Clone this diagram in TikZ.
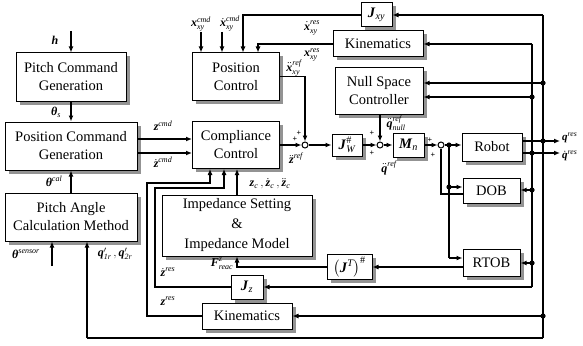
\documentclass[tikz,border=0pt]{standalone}
\usepackage{amsmath}
\usepackage{fontspec}
\setmainfont{Liberation Serif}
\usetikzlibrary{arrows.meta,shadows,calc}

\newcommand{\bi}[1]{\textbf{\textit{#1}}}

\begin{document}
\begin{tikzpicture}[x=1pt, y=-1pt,
  >={Latex[length=6pt,width=5pt]},
  blk/.style={draw, line width=1pt, fill=white, align=center, inner sep=1pt,
    font=\fontsize{14.5}{18}\selectfont,
    general shadow={fill=gray!85, shadow xshift=3.5pt, shadow yshift=-3.5pt}},
  sig/.style={line width=1.7pt},
  fb/.style={line width=1.1pt},
  jn/.style={draw, circle, line width=1pt, fill=white, inner sep=0pt, minimum size=6pt},
  lbl/.style={font=\fontsize{12}{14}\selectfont, inner sep=0pt},
  pm/.style={font=\fontsize{8}{8}\selectfont\bfseries, inner sep=0pt}]
  \useasboundingbox (0,0) rectangle (583,345);

  % left column
  \node[blk, minimum width=110pt, minimum height=48pt] (pcg) at (71,77) {Pitch Command\\Generation};
  \node[blk, minimum width=132pt, minimum height=48pt] (poscg) at (71,146) {Position Command\\Generation};
  \node[blk, minimum width=132pt, minimum height=48pt] (pacm) at (71,217) {Pitch Angle\\Calculation Method};

  % controllers
  \node[blk, minimum width=87pt, minimum height=47pt] (posc) at (236,76.5) {Position\\Control};
  \node[blk, minimum width=87pt, minimum height=47pt] (comp) at (236,145) {Compliance\\Control};
  \node[blk, minimum width=150pt, minimum height=61pt, font=\fontsize{14.5}{20}\selectfont] (imp) at (237,225.5) {Impedance Setting\\\&\\Impedance Model};

  % top right blocks
  \node[blk, minimum width=31pt, minimum height=24pt] (jxy) at (376.5,15) {$\bi{J}_{\textit{xy}}$};
  \node[blk, minimum width=90pt, minimum height=26pt] (kin1) at (378,44) {Kinematics};
  \node[blk, minimum width=88pt, minimum height=47pt] (nsc) at (379,90.5) {Null Space\\Controller};

  % forward path
  \node[jn] (s1) at (305,145) {};
  \node[blk, minimum width=30pt, minimum height=22pt] (jw) at (347,145) {$\bi{J}^{\#}_{\textit{W}}$};
  \node[jn] (s2) at (380,145) {};
  \node[blk, minimum width=31pt, minimum height=24pt] (mn) at (408.5,145) {$\bi{M}_{\textit{n}}$};
  \node[jn] (s3) at (441,145) {};
  \node[blk, minimum width=60pt, minimum height=28pt] (robot) at (492,147) {Robot};
  \node[blk, minimum width=57pt, minimum height=25pt] (dob) at (491.5,190.5) {DOB};
  \node[blk, minimum width=57pt, minimum height=27pt] (rtob) at (491.5,262.5) {RTOB};

  % feedback blocks
  \node[blk, minimum width=45pt, minimum height=25pt] (jt) at (349.5,267) {$\left(\bi{J}^{\textit{T}}\right)^{\#}$};
  \node[blk, minimum width=32pt, minimum height=24pt] (jz) at (247,287) {$\bi{J}_{\textit{z}}$};
  \node[blk, minimum width=90pt, minimum height=26pt] (kin2) at (247,316) {Kinematics};

  % bus points
  \coordinate (qtop) at (543,15);
  \coordinate (qn) at (543,83);
  \coordinate (qo) at (543,141);
  \coordinate (qk) at (543,316);
  \coordinate (qbot) at (543,338);
  \coordinate (vtop) at (532,44);
  \coordinate (vn) at (532,97);
  \coordinate (qdo) at (532,153);
  \coordinate (vd) at (532,190);
  \coordinate (vr) at (532,263);
  \coordinate (vbot) at (532,287);
  \coordinate (rd) at (449,145);
  \coordinate (db) at (449,187);
  \coordinate (rb) at (449,258);

  % left arrows
  \coordinate (hin) at (71,31);
  \draw[sig,->] (hin) -- (pcg.north);
  \draw[sig,->] (pcg.south) -- (poscg.north);
  \draw[sig,->] (pacm.north) -- (poscg.south);
  \coordinate (sens) at (52,266);
  \draw[sig,->] (sens) -- (sens |- pacm.south);
  \coordinate (qleft) at (87,338);
  \draw[fb] (qbot) -- (qleft);
  \draw[sig,->] (qleft) -- (qleft |- pacm.south);
  \draw[sig,->] ($(poscg.east)+(0,-7)$) coordinate (zc1) -- (zc1 -| comp.west);
  \draw[sig,->] ($(poscg.east)+(0,7)$) coordinate (zc2) -- (zc2 -| comp.west);

  % position control inputs
  \coordinate (xc1) at (201,32);
  \coordinate (xc2) at (222,32);
  \draw[sig,->] (xc1) -- (xc1 |- posc.north);
  \draw[sig,->] (xc2) -- (xc2 |- posc.north);
  \coordinate (jx1) at (243,15);
  \draw[fb,->] (jxy.west) -- (jx1) -- (jx1 |- posc.north);
  \coordinate (k1) at (258,44);
  \draw[fb,->] (kin1.west) -- (k1) -- (k1 |- posc.north);

  % forward path
  \coordinate (pc1) at (305,76.5);
  \draw[sig,->] (posc.east) -- (pc1) -- (s1.north);
  \draw[sig,->] (comp.east) -- (s1.west);
  \draw[sig,->] (s1.east) -- (jw.west);
  \draw[sig,->] (jw.east) -- (s2.west);
  \draw[sig,->] (s2 |- nsc.south) -- (s2.north);
  \draw[sig,->] (s2.east) -- (mn.west);
  \draw[sig,->] (mn.east) -- (s3.west);
  \draw[sig,->] (s3.east) -- (s3.east -| robot.west);
  \draw[sig] (rd) -- (rb);
  \draw[sig,->] (db) -- (db -| dob.west);
  \draw[sig,->] (rb) -- (rb -| rtob.west);
  \coordinate (do1) at (441,194);
  \draw[fb] (do1 -| dob.west) -- (do1) -- (s3.south);
  \coordinate (qend) at (560,141);
  \coordinate (qdend) at (560,153);
  \draw[sig,->] (qo -| robot.east) -- (qend);
  \draw[sig,->] (qdo -| robot.east) -- (qdend);

  % buses
  \draw[fb] (qtop) -- (qbot);
  \draw[fb] (vtop) -- (vbot);
  \draw[fb,->] (qtop) -- (jxy.east);
  \draw[fb,->] (vtop) -- (kin1.east);
  \draw[sig,->] (qn) -- (qn -| nsc.east);
  \draw[sig,->] (vn) -- (vn -| nsc.east);
  \draw[sig,->] (vd) -- (vd -| dob.east);
  \draw[sig,->] (vr) -- (vr -| rtob.east);
  \draw[fb,->] (vbot) -- (jz.east);
  \draw[fb,->] (qk) -- (kin2.east);

  % feedback to compliance control
  \draw[fb,->] (rtob.west |- jt.east) -- (jt.east);
  \coordinate (fz) at (237,267);
  \draw[fb,->] (jt.west) -- (fz) -- (fz |- imp.south);
  \coordinate (jz1) at (155,287);
  \coordinate (jz2) at (155,188);
  \coordinate (jz3) at (224,188);
  \draw[fb,->] (jz.west) -- (jz1) -- (jz2) -- (jz3) -- (jz3 |- comp.south);
  \coordinate (kz1) at (147,316);
  \coordinate (kz2) at (147,183);
  \coordinate (kz3) at (210,183);
  \draw[fb,->] (kin2.west) -- (kz1) -- (kz2) -- (kz3) -- (kz3 |- comp.south);
  \draw[sig,->] (imp.north) -- (imp.north |- comp.south);

  % branch dots
  \foreach \p in {qn,qo,qk,vn,qdo,vd,vr,rd,db}
    \fill (\p) circle (2.6pt);

  % signal labels
  \node[lbl] (lh) at (55,40) {\bi{h}};
  \node[lbl] (lths) at (56,112) {$\bi{θ}_{\textit{s}}$};
  \node[lbl] (lthc) at (54,181) {$\bi{θ}^{\textit{cal}}$};
  \node[lbl] (lsens) at (26,254) {$\bi{θ}^{\textit{sensor}}$};
  \node[lbl] (lq) at (115,254) {$\bi{q}^{\prime}_{\textit{1r}}\,,\bi{q}^{\prime}_{\textit{2r}}$};
  \node[lbl] (lzc) at (163,126) {$\bi{z}^{\textit{cmd}}$};
  \node[lbl] (lzdc) at (163,162) {$\dot{\bi{z}}^{\textit{cmd}}$};
  \node[lbl] (lxc) at (201,24) {$\bi{x}^{\textit{cmd}}_{\textit{xy}}$};
  \node[lbl] (lxdc) at (230,24) {$\dot{\bi{x}}^{\textit{cmd}}_{\textit{xy}}$};
  \node[lbl] (lxdr) at (312,28) {$\dot{\bi{x}}^{\textit{res}}_{\textit{xy}}$};
  \node[lbl] (lxr) at (312,55) {$\bi{x}^{\textit{res}}_{\textit{xy}}$};
  \node[lbl] (lxref) at (294,68) {$\ddot{\bi{x}}^{\textit{ref}}_{\textit{xy}}$};
  \node[lbl] (lzref) at (296,158) {$\ddot{\bi{z}}^{\textit{ref}}$};
  \node[lbl] (lqnull) at (396,123) {$\ddot{\bi{q}}^{\textit{ref}}_{\textit{null}}$};
  \node[lbl] (lqref) at (389,168) {$\ddot{\bi{q}}^{\textit{ref}}$};
  \node[lbl, anchor=west, font=\fontsize{11}{12}\selectfont] (lqres) at (562,138) {$\bi{q}^{\textit{res}}$};
  \node[lbl, anchor=west, font=\fontsize{11}{12}\selectfont] (lqdres) at (562,156) {$\dot{\bi{q}}^{\textit{res}}$};
  \node[lbl] (lzc3) at (270,184) {$\bi{z}_{\textit{c}}\,,\dot{\bi{z}}_{\textit{c}}\,,\ddot{\bi{z}}_{\textit{c}}$};
  \node[lbl] (lfz) at (222,264) {$\bi{F}^{\textit{z}}_{\textit{reac}}$};
  \node[lbl] (lzdr) at (168,272) {$\dot{\bi{z}}^{\textit{res}}$};
  \node[lbl] (lzr) at (168,301) {$\bi{z}^{\textit{res}}$};

  % junction signs
  \node[pm] at (295,139) {+};
  \node[pm] at (299,133) {+};
  \node[pm] at (372,133) {+};
  \node[pm] at (372,153) {+};
  \node[pm] at (430,140) {+};
  \node[pm] at (433,155) {+};
\end{tikzpicture}
\end{document}
